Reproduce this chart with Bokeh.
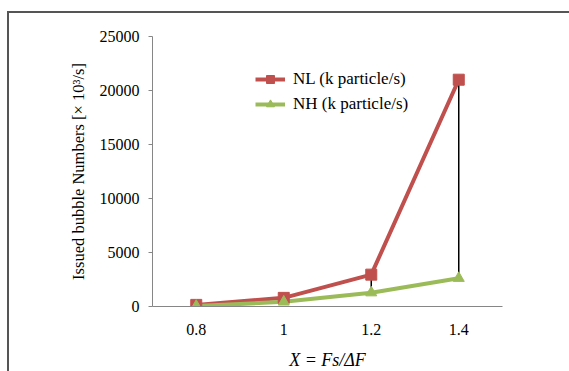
from bokeh.plotting import figure
from bokeh.models import (FactorRange, Range1d, FixedTicker, Legend, LegendItem,
                          ColumnDataSource)
from bokeh.embed import file_html
from bokeh.resources import INLINE

categories = ["0.8", "1", "1.2", "1.4"]
nl_values = [150, 800, 2950, 21000]
nh_values = [40, 430, 1280, 2620]
y_ticks = [0, 5000, 10000, 15000, 20000, 25000]

RED = "#C0504D"
GREEN = "#9BBB59"
FONT = "'Liberation Serif', 'Times New Roman', serif"

src = ColumnDataSource(dict(x=categories, nl=nl_values, nh=nh_values))

# outer frame line drawn as CSS border of the figure: offset by margin
ML, MT, BW = 7, 11, 2

p = figure(width=569 - ML - BW, height=371 - MT - BW,
           x_range=FactorRange(*categories, range_padding=0),
           y_range=Range1d(0, 25000), output_backend="svg", toolbar_location=None,
           min_border_left=152 - ML - BW, min_border_right=69,
           min_border_top=36 - MT - BW, min_border_bottom=67)
p.margin = (MT, 0, 0, ML)
p.styles = {"border-top": f"{BW}px solid #555555", "border-left": f"{BW}px solid #555555",
            "box-sizing": "content-box"}
p.outline_line_color = None
p.grid.grid_line_color = None
p.background_fill_color = "white"
p.border_fill_color = "white"

# axes
p.yaxis.ticker = FixedTicker(ticks=y_ticks)
p.yaxis.minor_tick_line_color = None
p.yaxis.major_tick_out = 4
p.yaxis.major_tick_in = 0
p.yaxis.axis_line_color = "#868686"
p.yaxis.major_tick_line_color = "#868686"
p.yaxis.major_label_text_font = FONT
p.yaxis.major_label_text_font_size = "16px"
p.yaxis.major_label_text_color = "black"
p.yaxis.major_label_standoff = 9
p.yaxis.axis_label = "Issued bubble Numbers [× 10³/s]"
p.yaxis.axis_label_text_font = FONT
p.yaxis.axis_label_text_font_style = "normal"
p.yaxis.axis_label_text_font_size = "16.5px"
p.yaxis.axis_label_text_color = "black"
p.yaxis.axis_label_standoff = 9

p.xaxis.axis_line_color = "#868686"
p.xaxis.major_tick_line_color = None
p.xaxis.minor_tick_line_color = None
p.xaxis.major_label_text_font = FONT
p.xaxis.major_label_text_font_size = "16px"
p.xaxis.major_label_text_color = "black"
p.xaxis.major_label_standoff = 11
p.xaxis.axis_label = "X = Fs/ΔF"
p.xaxis.axis_label_text_font = FONT
p.xaxis.axis_label_text_font_style = "italic"
p.xaxis.axis_label_text_font_size = "18px"
p.xaxis.axis_label_text_color = "black"
p.xaxis.axis_label_standoff = 12

# series
r_nl_line = p.line("x", "nl", source=src, line_color=RED, line_width=4)
r_nh_line = p.line("x", "nh", source=src, line_color=GREEN, line_width=4)
p.segment(x0="x", y0="nh", x1="x", y1="nl", source=src, line_color="black", line_width=1.5)
r_nl_mark = p.scatter("x", "nl", source=src, marker="square", size=11,
                      fill_color=RED, line_color=RED)
r_nh_mark = p.scatter("x", "nh", source=src, marker="triangle", size=11,
                      fill_color=GREEN, line_color=GREEN)

legend = Legend(items=[
    LegendItem(label="NL (k particle/s)", renderers=[r_nl_line, r_nl_mark]),
    LegendItem(label="NH (k particle/s)", renderers=[r_nh_line, r_nh_mark]),
], location=(103, 192), orientation="vertical")
legend.background_fill_alpha = 0
legend.border_line_color = None
legend.label_text_font = FONT
legend.label_text_font_size = "17px"
legend.label_text_color = "black"
legend.glyph_width = 30
legend.glyph_height = 20
legend.label_height = 20
legend.spacing = 5
legend.padding = 0
legend.margin = 0
legend.label_standoff = 8
p.add_layout(legend)

open("out.html", "w").write(file_html(p, INLINE))
